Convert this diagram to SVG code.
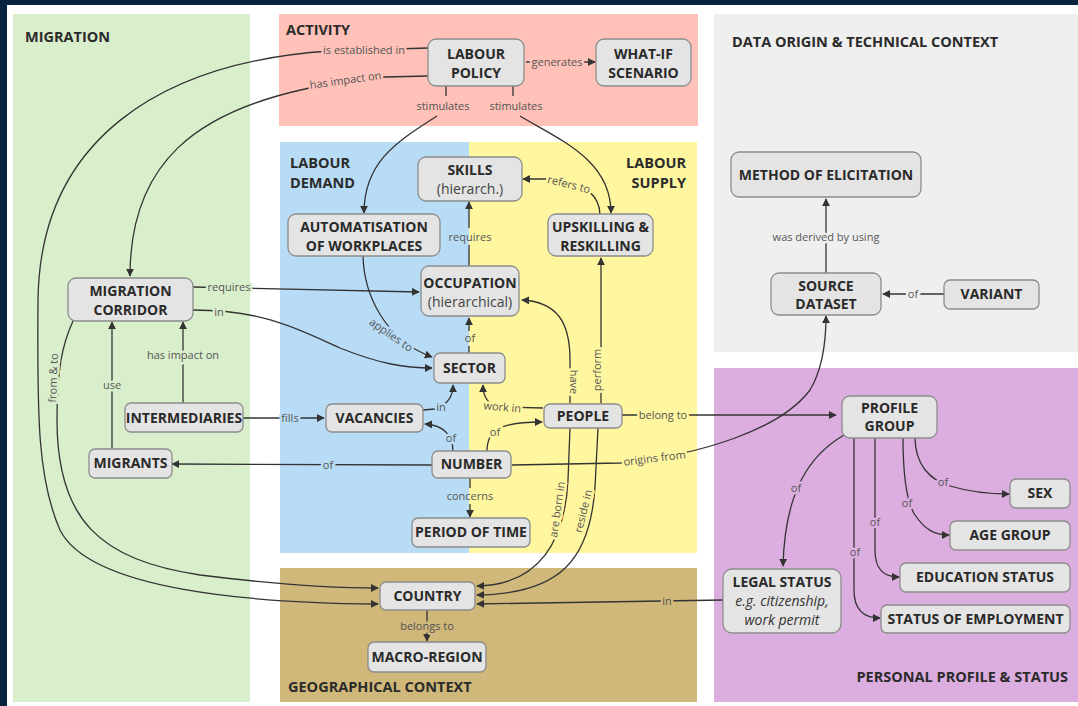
<svg xmlns="http://www.w3.org/2000/svg" width="1078" height="706" viewBox="0 0 1078 706">
<defs>
<marker id="ah" viewBox="0 0 10 10" refX="9" refY="5" markerWidth="8" markerHeight="8" markerUnits="userSpaceOnUse" orient="auto">
<path d="M0,0 L10,5 L0,10 z" fill="#333"/>
</marker>
<style>
.pt{font-family:"Open Sans","DejaVu Sans",sans-serif;font-weight:700;font-size:14.5px;fill:#2b2b2b}
.nb{fill:#e4e4e4;stroke:#8c8c8c;stroke-width:1.3}
.nt{font-family:"Open Sans","DejaVu Sans",sans-serif;font-weight:700;font-size:14px;fill:#2a2a2a;text-anchor:middle}
.ns{font-family:"Open Sans","DejaVu Sans",sans-serif;font-weight:400;font-size:14px;fill:#444;text-anchor:middle}
.ni{font-family:"Open Sans","DejaVu Sans",sans-serif;font-style:italic;font-size:14px;fill:#333;text-anchor:middle}
.c{fill:none;stroke:#333;stroke-width:1.3}
.ca{fill:none;stroke:#333;stroke-width:1.3;marker-end:url(#ah)}
.l{font-family:"Open Sans","DejaVu Sans",sans-serif;font-size:11px;fill:#555;text-anchor:middle;paint-order:stroke;stroke-width:5px;stroke-linejoin:round}
.ln{font-family:"Open Sans","DejaVu Sans",sans-serif;font-size:11px;fill:#555;text-anchor:middle}
.lr{stroke:#ffc1b8}.lb{stroke:#b8dcf6}.ly{stroke:#fff79f}.lg{stroke:#d9eecb}.lgr{stroke:#efefef}.lp{stroke:#dcaee0}.lt{stroke:#cfb87a}
</style>
</defs>
<rect x="0" y="0" width="1078" height="706" fill="#ffffff"/>
<rect x="0" y="0" width="1078" height="5" fill="#06243f"/>
<rect x="0" y="0" width="7" height="706" fill="#06243f"/>
<g id="panels">
<rect x="13" y="14" width="237" height="688" fill="#d9eecb"/>
<rect x="279" y="14" width="419" height="112" fill="#ffc1b8"/>
<rect x="714" y="14" width="364" height="338" fill="#efefef"/>
<rect x="280" y="142" width="189" height="411" fill="#b8dcf6"/>
<rect x="469" y="142" width="228" height="411" fill="#fff79f"/>
<rect x="280" y="568" width="417" height="134" fill="#cfb87a"/>
<rect x="714" y="368" width="364" height="334" fill="#dcaee0"/>
<text class="pt" x="25" y="42">MIGRATION</text>
<text class="pt" x="286" y="35">ACTIVITY</text>
<text class="pt" x="732" y="47">DATA ORIGIN &amp; TECHNICAL CONTEXT</text>
<text class="pt" x="290" y="168">LABOUR</text>
<text class="pt" x="290" y="188">DEMAND</text>
<text class="pt" x="686" y="168" text-anchor="end">LABOUR</text>
<text class="pt" x="686" y="188" text-anchor="end">SUPPLY</text>
<text class="pt" x="288" y="692">GEOGRAPHICAL CONTEXT</text>
<text class="pt" x="1068" y="682" text-anchor="end">PERSONAL PROFILE &amp; STATUS</text>
</g>
<g id="connectors">
<path class="ca" d="M428 48 L330 51 C160 62 40 140 38 300 C37 420 38 480 60 530 C90 590 250 603 378 604"/>
<path class="ca" d="M428 76 L385 77 Q345 78 305 89 C200 112 130 160 130 276"/>
<path class="ca" d="M526 62 L595 62"/>
<path class="c" d="M446 86 L446 96"/>
<path class="ca" d="M437 116 C400 140 364 160 364 213"/>
<path class="c" d="M513 86 L513 96"/>
<path class="ca" d="M520 116 C560 140 611 160 611 213"/>
<path class="ca" d="M600 215 C600 196 585 183 555 179 L523 179"/>
<path class="c" d="M469 266 L469 245"/>
<path class="ca" d="M469 228 L469 202"/>
<path class="ca" d="M193 287 L419 292"/>
<path class="ca" d="M193 310 C265 310 300 330 340 348 C380 364 405 368 432 368"/>
<path class="ca" d="M363 256 C364 295 385 340 432 357"/>
<path class="c" d="M469 353 L469 346"/>
<path class="ca" d="M469 331 L469 318"/>
<path class="ca" d="M423 410 L435 409 C447 405 453 398 453 385"/>
<path class="ca" d="M543 408 L500 407 Q483 404 483 385"/>
<path class="ca" d="M570 403 L570 360 C570 322 557 302 522 300"/>
<path class="ca" d="M601 403 L601 258"/>
<path class="ca" d="M622 415 L836 415"/>
<path class="ca" d="M453 451 C453 434 442 425 425 424"/>
<path class="ca" d="M487 451 C487 430 500 422 542 422"/>
<path class="ca" d="M432 465 L172 464"/>
<path class="c" d="M470 478 L470 488"/>
<path class="ca" d="M470 504 L470 517"/>
<path class="ca" d="M512 465 L620 463 C700 455 780 430 810 390 C822 370 826 345 826 316"/>
<path class="ca" d="M570 428 L568 480 C565 540 540 585 477 586"/>
<path class="ca" d="M598 428 L595 487 C590 560 560 594 477 595"/>
<path class="ca" d="M723 600 L477 604"/>
<path class="ca" d="M427 610 L427 641"/>
<path class="ca" d="M112 449 L112 322"/>
<path class="ca" d="M183 403 L183 322"/>
<path class="ca" d="M243 418 L324 418"/>
<path class="ca" d="M73 321 C62 345 57 370 57 420 C57 520 100 560 200 575 C280 585 340 588 378 588"/>
<path class="ca" d="M826 273 L826 199"/>
<path class="ca" d="M944 294 L883 294"/>
<path class="ca" d="M844 435 C810 455 785 490 783 566"/>
<path class="ca" d="M854 437 L854 590 C854 608 862 618 880 618"/>
<path class="ca" d="M875 437 L875 550 C875 568 882 577 899 577"/>
<path class="ca" d="M903 437 C903 470 905 500 915 515 C925 530 935 535 949 535"/>
<path class="ca" d="M915 437 C915 465 930 480 950 486 C970 492 990 494 1009 494"/>
<text class="l lr" x="364" y="54">is established in</text>
<text class="l lr" x="346" y="84" transform="rotate(-8 346 84)">has impact on</text>
<text class="l lr" x="557" y="66">generates</text>
<text class="l lr" x="443" y="110">stimulates</text>
<text class="l lr" x="516" y="110">stimulates</text>
<text class="l ly" x="568" y="188" transform="rotate(14 568 188)">refers to</text>
<text class="ln" x="470" y="241">requires</text>
<text class="l lg" x="229" y="291">requires</text>
<text class="l lg" x="219" y="316">in</text>
<text class="l lb" x="389" y="338" transform="rotate(35 389 338)">applies to</text>
<text class="ln" x="470" y="342">of</text>
<text class="l lb" x="441" y="411">in</text>
<text class="l ly" x="502" y="411" transform="rotate(5 502 411)">work in</text>
<text class="l ly" x="570" y="382" transform="rotate(90 570 382)">have</text>
<text class="l ly" x="601" y="370" transform="rotate(-90 601 370)">perform</text>
<text class="l ly" x="663" y="419">belong to</text>
<text class="l lb" x="451" y="442">of</text>
<text class="l ly" x="495" y="436">of</text>
<text class="l lb" x="328" y="469">of</text>
<text class="ln" x="470" y="500">concerns</text>
<text class="l ly" x="655" y="462" transform="rotate(-7 655 462)">origins from</text>
<text class="l ly" x="561" y="510" transform="rotate(-82 561 510)">are born in</text>
<text class="l ly" x="587" y="512" transform="rotate(-76 587 512)">reside in</text>
<text class="l lt" x="667" y="605">in</text>
<text class="l lt" x="427" y="630">belongs to</text>
<text class="l lg" x="112" y="389">use</text>
<text class="l lg" x="183" y="359">has impact on</text>
<text class="l lb" x="290" y="422">fills</text>
<text class="l lg" x="57" y="378" transform="rotate(-88 57 378)">from &amp; to</text>
<text class="l lgr" x="826" y="241">was derived by using</text>
<text class="l lgr" x="913" y="298">of</text>
<text class="l lp" x="796" y="492">of</text>
<text class="l lp" x="855" y="556">of</text>
<text class="l lp" x="875" y="526">of</text>
<text class="l lp" x="907" y="507">of</text>
<text class="l lp" x="943" y="486">of</text>
</g>
<g id="n-labour-policy"><rect class="nb" x="428" y="39" width="96" height="47" rx="8"/><text class="nt" x="476" y="59">LABOUR</text><text class="nt" x="476" y="78">POLICY</text></g>
<g id="n-whatif"><rect class="nb" x="596" y="39" width="95" height="47" rx="8"/><text class="nt" x="643.5" y="59">WHAT-IF</text><text class="nt" x="643.5" y="78">SCENARIO</text></g>
<g id="n-skills"><rect class="nb" x="418" y="157" width="104" height="44" rx="8"/><text class="nt" x="470" y="175">SKILLS</text><text class="ns" x="470" y="194">(hierarch.)</text></g>
<g id="n-automatisation"><rect class="nb" x="288" y="214" width="152" height="42" rx="8"/><text class="nt" x="364" y="232">AUTOMATISATION</text><text class="nt" x="364" y="251">OF WORKPLACES</text></g>
<g id="n-upskilling"><rect class="nb" x="548" y="214" width="105" height="42" rx="8"/><text class="nt" x="600.5" y="232">UPSKILLING &amp;</text><text class="nt" x="600.5" y="251">RESKILLING</text></g>
<g id="n-occupation"><rect class="nb" x="421" y="266" width="98" height="50" rx="8"/><text class="nt" x="470" y="288">OCCUPATION</text><text class="ns" x="470" y="307">(hierarchical)</text></g>
<g id="n-sector"><rect class="nb" x="434" y="353" width="71" height="30" rx="6"/><text class="nt" x="469.5" y="373">SECTOR</text></g>
<g id="n-corridor"><rect class="nb" x="68" y="278" width="125" height="43" rx="8"/><text class="nt" x="130.5" y="296">MIGRATION</text><text class="nt" x="130.5" y="315">CORRIDOR</text></g>
<g id="n-intermediaries"><rect class="nb" x="125" y="403" width="118" height="29" rx="6"/><text class="nt" x="184" y="423">INTERMEDIARIES</text></g>
<g id="n-vacancies"><rect class="nb" x="326" y="404" width="97" height="28" rx="6"/><text class="nt" x="374.5" y="423">VACANCIES</text></g>
<g id="n-people"><rect class="nb" x="544" y="404" width="78" height="24" rx="6"/><text class="nt" x="583" y="421">PEOPLE</text></g>
<g id="n-number"><rect class="nb" x="432" y="451" width="79" height="27" rx="6"/><text class="nt" x="471.5" y="469">NUMBER</text></g>
<g id="n-migrants"><rect class="nb" x="89" y="449" width="83" height="29" rx="6"/><text class="nt" x="130.5" y="468">MIGRANTS</text></g>
<g id="n-period"><rect class="nb" x="412" y="518" width="118" height="29" rx="6"/><text class="nt" x="471" y="537">PERIOD OF TIME</text></g>
<g id="n-country"><rect class="nb" x="380" y="582" width="95" height="28" rx="6"/><text class="nt" x="427.5" y="601">COUNTRY</text></g>
<g id="n-macro"><rect class="nb" x="368" y="642" width="118" height="30" rx="6"/><text class="nt" x="427" y="662">MACRO-REGION</text></g>
<g id="n-method"><rect class="nb" x="731" y="152" width="190" height="45" rx="8"/><text class="nt" x="826" y="180">METHOD OF ELICITATION</text></g>
<g id="n-source"><rect class="nb" x="771" y="273" width="110" height="42" rx="8"/><text class="nt" x="826" y="291">SOURCE</text><text class="nt" x="826" y="309">DATASET</text></g>
<g id="n-variant"><rect class="nb" x="944" y="280" width="95" height="29" rx="6"/><text class="nt" x="991.5" y="299">VARIANT</text></g>
<g id="n-profile"><rect class="nb" x="842" y="396" width="95" height="42" rx="8"/><text class="nt" x="889.5" y="413">PROFILE</text><text class="nt" x="889.5" y="431">GROUP</text></g>
<g id="n-sex"><rect class="nb" x="1010" y="479" width="60" height="29" rx="6"/><text class="nt" x="1040" y="498">SEX</text></g>
<g id="n-age"><rect class="nb" x="950" y="521" width="120" height="29" rx="6"/><text class="nt" x="1010" y="540">AGE GROUP</text></g>
<g id="n-education"><rect class="nb" x="900" y="563" width="170" height="29" rx="6"/><text class="nt" x="985" y="582">EDUCATION STATUS</text></g>
<g id="n-employment"><rect class="nb" x="881" y="605" width="189" height="28" rx="6"/><text class="nt" x="975.5" y="624">STATUS OF EMPLOYMENT</text></g>
<g id="n-legal"><rect class="nb" x="723" y="569" width="118" height="64" rx="9"/><text class="nt" x="782" y="587">LEGAL STATUS</text><text class="ni" x="782" y="606">e.g. citizenship,</text><text class="ni" x="782" y="625">work permit</text></g>
</svg>
